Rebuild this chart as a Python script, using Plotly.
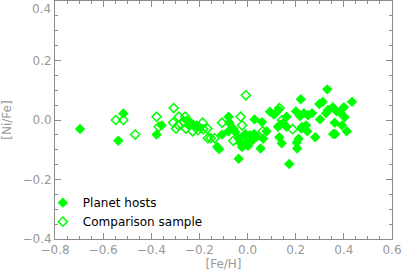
import plotly.graph_objects as go

# Planet hosts (filled diamonds)
host_feh = [-0.696, -0.516, -0.537, -0.357, -0.378, -0.253, -0.236, -0.245, -0.226, -0.211,
            -0.201, -0.126, -0.118, -0.106, -0.079, -0.076, -0.079, -0.059, -0.051, -0.037,
            -0.037, -0.029, -0.018, -0.010, -0.004, 0.010, 0.021, 0.027, 0.038, 0.029,
            0.060, 0.054, 0.065, 0.079, 0.093, 0.110, 0.129, 0.135, 0.148, 0.162,
            0.162, 0.132, 0.142, 0.126, 0.173, 0.201, 0.204, 0.206, 0.212, 0.221,
            0.218, 0.226, 0.234, 0.243, 0.248, 0.251, 0.268, 0.281, 0.301, 0.298,
            0.312, 0.331, 0.326, 0.334, 0.354, 0.356, 0.362, 0.370, 0.384, 0.392,
            0.400, 0.403, 0.412, 0.434, -0.023, 0.002, 0.223, 0.364]
host_nife = [-0.030, 0.022, -0.070, -0.018, -0.049, -0.002, -0.009, -0.018, -0.017, -0.018,
             -0.023, -0.090, -0.098, -0.049, 0.011, -0.009, -0.038, -0.029, -0.040, -0.130,
             -0.063, -0.078, -0.085, -0.047, -0.074, -0.051, -0.067, -0.047, -0.056, 0.002,
             -0.007, -0.096, -0.063, -0.038, 0.028, 0.018, 0.034, -0.016, -0.011, -0.023,
             0.011, -0.058, -0.078, -0.023, -0.148, 0.029, -0.076, -0.096, -0.063, 0.070,
             0.013, -0.023, 0.023, -0.018, -0.038, 0.016, 0.023, -0.058, 0.002, 0.054,
             0.061, 0.103, 0.023, 0.034, 0.043, -0.047, -0.009, 0.029, 0.025, -0.018,
             0.043, 0.009, -0.038, 0.061, -0.091, -0.087, -0.029, -0.047]

# Comparison sample (open diamonds)
comp_feh = [-0.547, -0.516, -0.467, -0.378, -0.369, -0.307, -0.309, -0.286, -0.297, -0.288,
            -0.259, -0.256, -0.264, -0.228, -0.187, -0.206, -0.184, -0.167, -0.165, -0.153,
            -0.137, -0.106, -0.059, -0.007, -0.029, -0.023, 0.063, 0.132, 0.143, 0.187,
            -0.029]
comp_nife = [0.000, 0.000, -0.049, 0.011, -0.023, 0.040, -0.009, 0.011, -0.029, -0.018,
             0.011, -0.029, -0.006, -0.038, -0.009, -0.034, -0.031, -0.029, -0.061, -0.061,
             -0.061, -0.009, -0.070, 0.083, 0.011, -0.018, -0.038, 0.040, 0.000, -0.031,
             -0.065]

x_ticks = [-0.8, -0.6, -0.4, -0.2, 0.0, 0.2, 0.4, 0.6]
y_ticks = [-0.4, -0.2, 0.0, 0.2, 0.4]
y_ticktext = ["\u22120.4", "\u22120.2", "0.0", "0.2", ""]  # top label placed below the frame edge
y_top_label = "0.4"

green = "#00FF00"
axis_col = "#8c8c8c"
label_col = "#999999"
font_fam = "DejaVu Sans"

fig = go.Figure()
fig.add_trace(go.Scatter(x=host_feh, y=host_nife, mode="markers", name="Planet hosts",
                         marker=dict(symbol="diamond", size=8, color=green, line=dict(width=0))))
fig.add_trace(go.Scatter(x=comp_feh, y=comp_nife, mode="markers", name="Comparison sample",
                         marker=dict(symbol="diamond-open", size=7, color=green, line=dict(width=1.5, color=green))))

axis_common = dict(showgrid=False, zeroline=False, showline=True, linecolor=axis_col, linewidth=1,
                   mirror="allticks", ticks="inside", ticklen=6, tickcolor=axis_col, tickwidth=1,
                   automargin=False,
                   tickfont=dict(family=font_fam, size=12, color=label_col))

fig.update_xaxes(range=[-0.8, 0.6], tickvals=x_ticks, tickformat=".1f",
                 minor=dict(dtick=0.05, ticks="inside", ticklen=3, tickcolor=axis_col),
                 title=dict(text="[Fe/H]", font=dict(family=font_fam, size=12, color=label_col), standoff=2),
                 **axis_common)
fig.update_yaxes(range=[-0.4, 0.4], tickvals=y_ticks, ticktext=y_ticktext,
                 minor=dict(dtick=0.05, ticks="inside", ticklen=3, tickcolor=axis_col),
                 title=dict(text="[Ni/Fe]", font=dict(family=font_fam, size=12, color=label_col), standoff=8),
                 **axis_common)

fig.add_annotation(text=y_top_label, xref="paper", yref="paper", x=0, y=1, xanchor="right", yanchor="top",
                   xshift=-2, yshift=1, showarrow=False, font=dict(family=font_fam, size=12, color=label_col))

fig.update_layout(width=402, height=277, margin=dict(l=55, r=10, t=1, b=38),
                  paper_bgcolor="white", plot_bgcolor="white",
                  showlegend=True,
                  legend=dict(x=-0.036, y=0.012, xanchor="left", yanchor="bottom",
                              bgcolor="rgba(0,0,0,0)", font=dict(family=font_fam, size=12, color="black"),
                              tracegroupgap=0, itemwidth=30))

fig.write_html("out.html", config={"displayModeBar": False},
               post_script="document.body.style.margin='0px';document.body.style.overflow='hidden';")
